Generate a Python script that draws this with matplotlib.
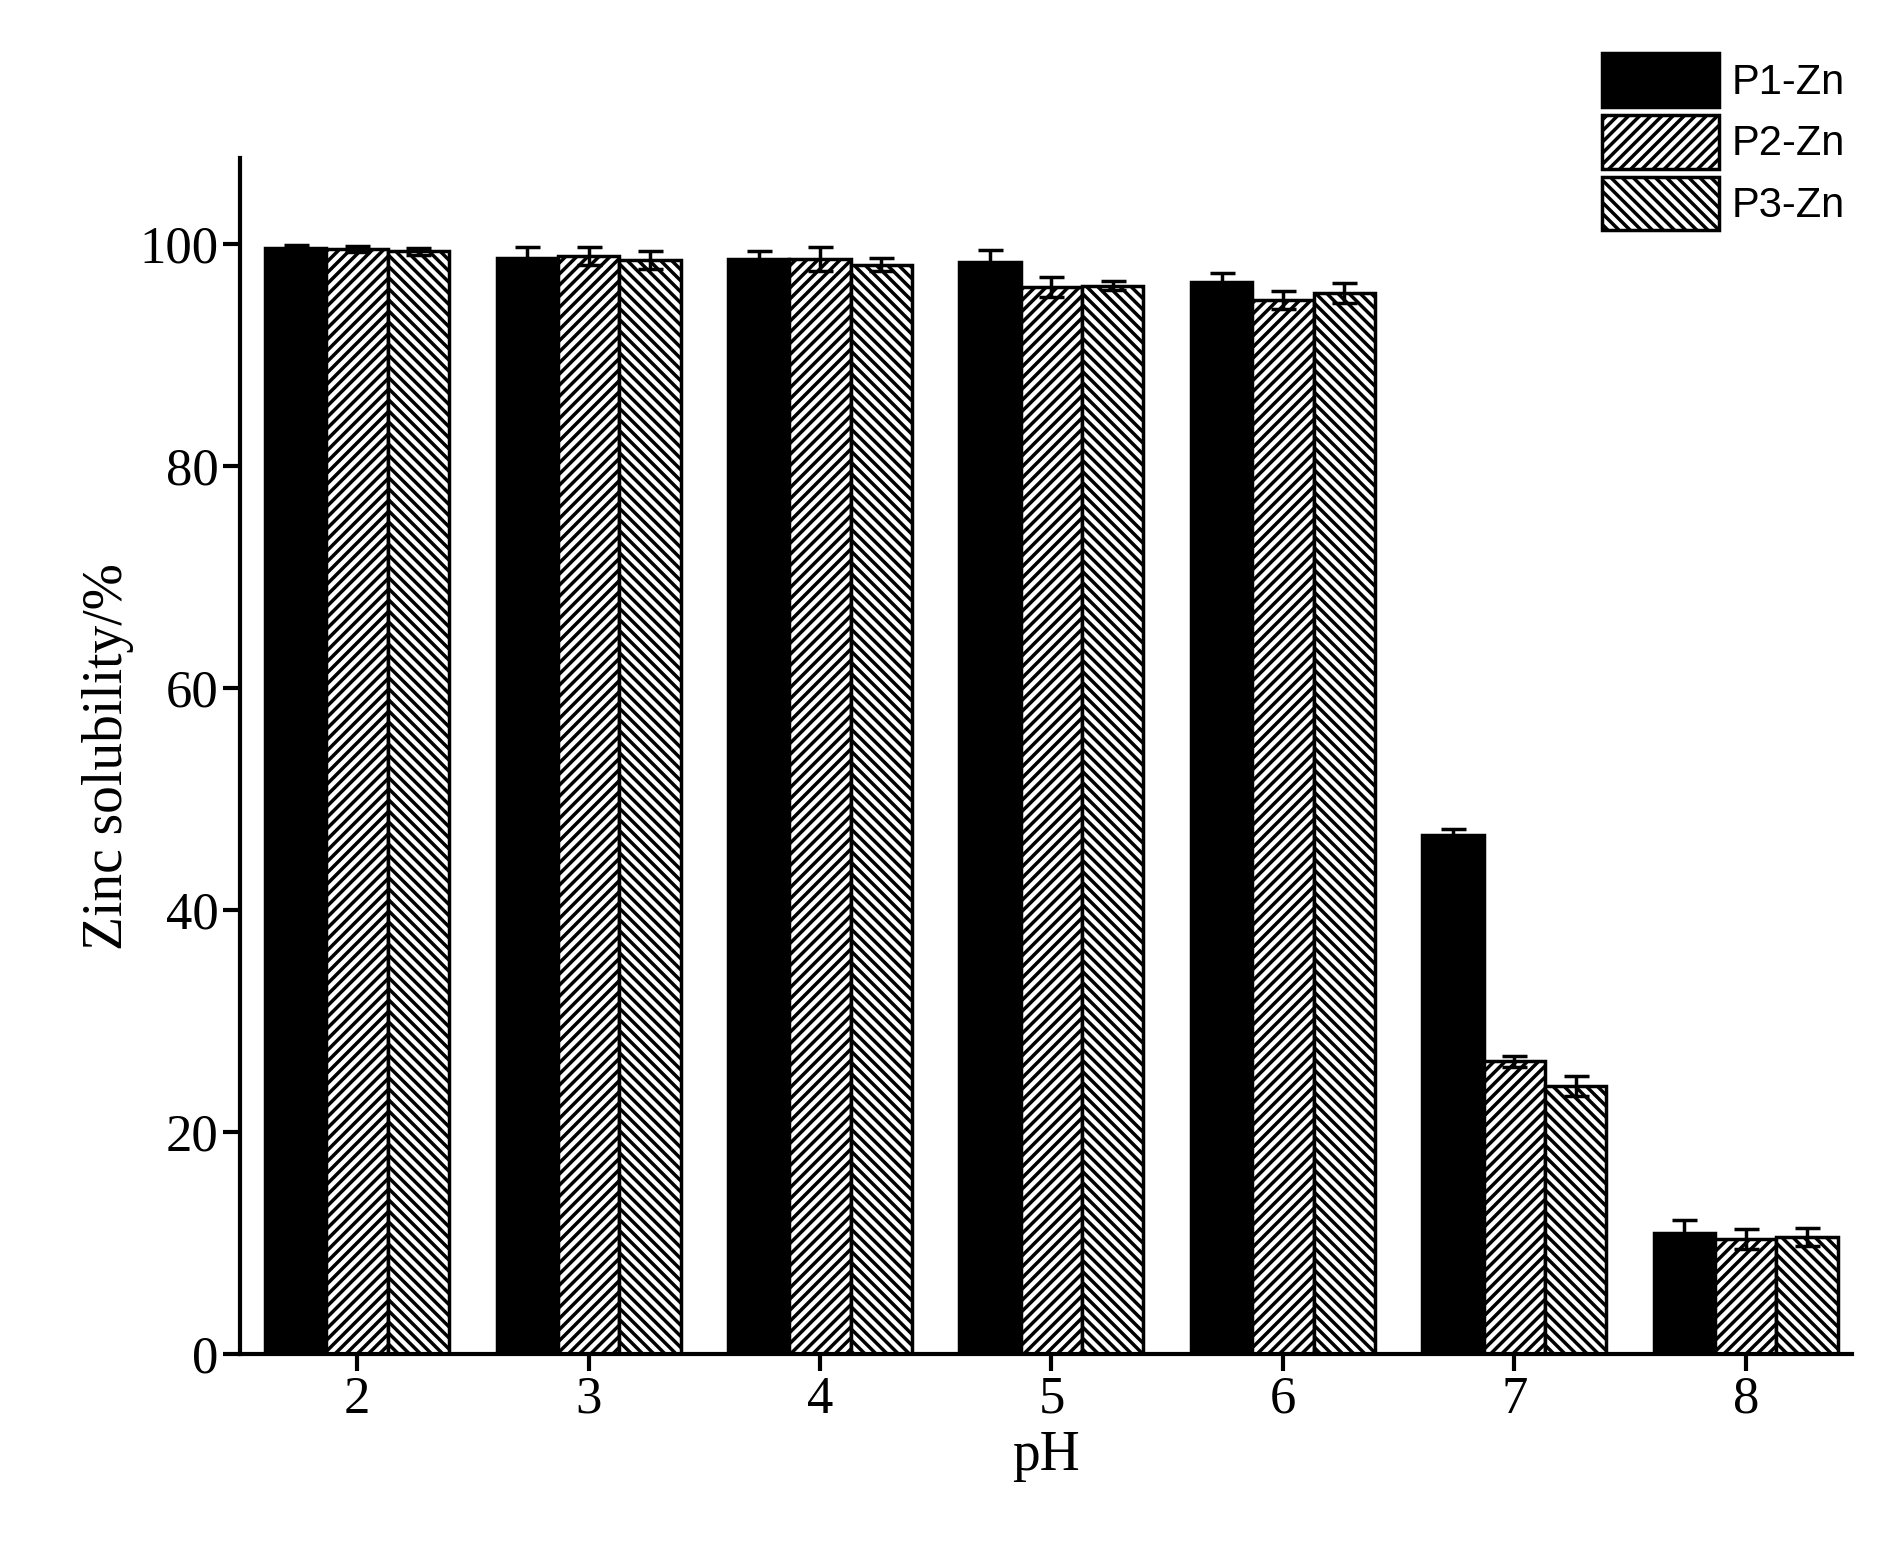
import matplotlib.pyplot as plt
import numpy as np

plt.rcParams['hatch.linewidth'] = 2.5

ph = [2, 3, 4, 5, 6, 7, 8]
p1 = [99.6, 98.7, 98.6, 98.3, 96.5, 46.8, 10.9]
p2 = [99.5, 98.9, 98.6, 96.1, 94.9, 26.4, 10.4]
p3 = [99.3, 98.5, 98.1, 96.2, 95.5, 24.2, 10.6]
e1 = [0.3, 1.0, 0.7, 1.1, 0.8, 0.5, 1.2]
e2 = [0.3, 0.8, 1.1, 0.9, 0.8, 0.5, 0.9]
e3 = [0.3, 0.8, 0.6, 0.4, 0.9, 0.9, 0.8]

fig = plt.figure(figsize=(18.92, 15.64), dpi=100)
ax = fig.add_axes([0.127, 0.134, 0.852, 0.765])
x = np.array(ph)
w = 0.265
ek = dict(ecolor='black', elinewidth=2.5, capsize=9, capthick=2.5)
ax.bar(x - w, p1, w, yerr=e1, color='black', edgecolor='black', lw=2.5, label='P1-Zn', error_kw=ek)
ax.bar(x, p2, w, yerr=e2, color='white', edgecolor='black', hatch='///', lw=2.5, label='P2-Zn', error_kw=ek)
ax.bar(x + w, p3, w, yerr=e3, color='white', edgecolor='black', hatch='\\\\\\', lw=2.5, label='P3-Zn', error_kw=ek)

ax.set_xlim(1.495, 8.46)
ax.set_ylim(0, 107.7)
ax.set_xticks(ph)
ax.set_yticks([0, 20, 40, 60, 80, 100])
for s in ['top', 'right']:
    ax.spines[s].set_visible(False)
for s in ['left', 'bottom']:
    ax.spines[s].set_linewidth(3)
ax.tick_params(width=3, length=12, labelsize=38)
for t in ax.get_xticklabels() + ax.get_yticklabels():
    t.set_family('Liberation Serif')
ax.set_xlabel('pH', fontsize=40, family='Liberation Serif')
ax.set_ylabel('Zinc solubility/%', fontsize=40, family='Liberation Serif')

fig.legend(loc='upper right', bbox_to_anchor=(0.995, 0.99), frameon=False,
           prop={'family': 'Liberation Sans', 'size': 30},
           handlelength=2.8, handleheight=1.6, labelspacing=0.2, handletextpad=0.3)
fig.savefig('out.png', dpi=100)
